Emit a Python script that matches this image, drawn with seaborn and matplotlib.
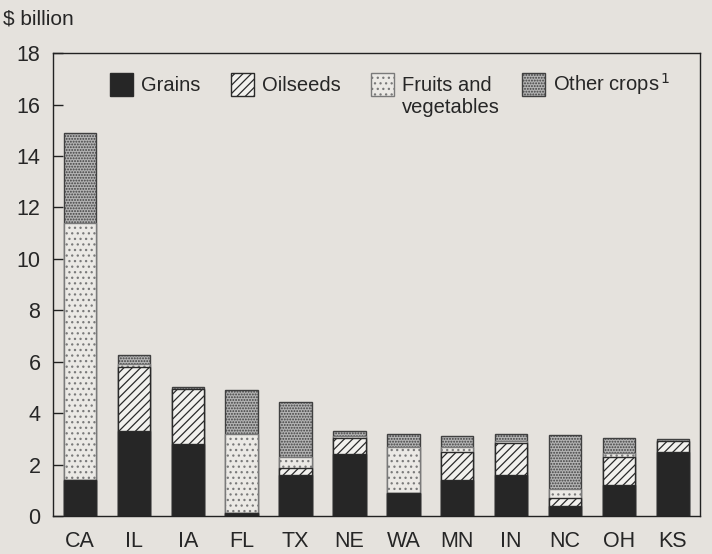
#!/usr/bin/env python3
"""Crop cash receipts by state, stacked by commodity group."""

import numpy as np
import pandas as pd
import matplotlib
matplotlib.use("Agg")
import matplotlib.pyplot as plt
import seaborn as sns

states = ["CA", "IL", "IA", "FL", "TX", "NE", "WA", "MN", "IN", "NC", "OH", "KS"]
grains = [1.4, 3.3, 2.8, 0.1, 1.6, 2.4, 0.9, 1.4, 1.6, 0.4, 1.2, 2.5]
oilseeds = [0.0, 2.5, 2.15, 0.0, 0.25, 0.65, 0.0, 1.1, 1.25, 0.3, 1.1, 0.4]
fruits_veg = [10.0, 0.1, 0.0, 3.1, 0.45, 0.05, 1.8, 0.2, 0.05, 0.35, 0.15, 0.0]
other_crops = [3.5, 0.35, 0.05, 1.7, 2.15, 0.2, 0.5, 0.4, 0.3, 2.1, 0.6, 0.1]

BG = "#e5e2dd"


def setup_style():
    sns.set_theme(style="white")
    plt.rcParams.update({
        "font.family": ["Liberation Sans", "DejaVu Sans"],
        "figure.facecolor": BG,
        "axes.facecolor": BG,
        "savefig.facecolor": BG,
        "hatch.linewidth": 0.9,
        "axes.edgecolor": "#222222",
    })


def main():
    setup_style()
    fig = plt.figure(figsize=(7.12, 5.54), dpi=100)
    ax = fig.add_axes([0.0744, 0.0686, 0.9086, 0.8354])

    df = pd.DataFrame({
        "state": states,
        "grains": grains,
        "oilseeds": oilseeds,
        "fruits": fruits_veg,
        "other": other_crops,
    })
    df["c1"] = df["grains"]
    df["c2"] = df["c1"] + df["oilseeds"]
    df["c3"] = df["c2"] + df["fruits"]
    df["c4"] = df["c3"] + df["other"]

    # draw cumulative layers from top down so each covers the one below
    layers = [
        ("c4", "#b3b3b3", "#404040", "......", "Other crops$^{\\,1}$"),
        ("c3", "#ebe9e5", "#7a7a7a", "...", "Fruits and"),
        ("c2", "#f2f1ee", "#2a2a2a", "////", "Oilseeds"),
        ("c1", "#262626", "#2a2a2a", None, "Grains"),
    ]
    handles = {}
    for col, color, edge, hatch, label in layers:
        n_before = len(ax.patches)
        sns.barplot(data=df, x="state", y=col, color=color, width=0.6,
                    edgecolor=edge, linewidth=1.0, hatch=hatch,
                    saturation=1, ax=ax)
        handles[label] = ax.patches[n_before]
        for p in ax.patches[n_before:]:
            p.set_facecolor(color)

    ax.set_xlim(-0.5, 11.5)
    ax.set_ylim(0, 18)
    ax.set_yticks(np.arange(0, 19, 2))
    ax.set_xlabel("")
    ax.set_ylabel("")
    ax.tick_params(axis="y", direction="in", length=7, width=1,
                   labelsize=15.5, pad=9, left=True, color="#222222")
    ax.tick_params(axis="x", length=0, labelsize=15.5, pad=11)
    for s in ax.spines.values():
        s.set_linewidth(1.0)
        s.set_visible(True)

    order = ["Grains", "Oilseeds", "Fruits and", "Other crops$^{\\,1}$"]
    leg = ax.legend([handles[k] for k in order], order, ncol=4, frameon=False,
                    loc="upper left", bbox_to_anchor=(0.06, 1.0),
                    fontsize=14.5, handlelength=1.15, handleheight=1.35,
                    handletextpad=0.4, columnspacing=1.5)

    # second line of the fruits label, hung under the first
    fig.canvas.draw()
    fruit_txt = leg.get_texts()[2]
    bb = fruit_txt.get_window_extent().transformed(fig.transFigure.inverted())
    fig.text(bb.x0, bb.y0 - 0.006, "vegetables", fontsize=14.5,
             ha="left", va="top")

    fig.text(0.004, 0.948, "\\$ billion", fontsize=15, ha="left", va="bottom")

    fig.savefig("out.png", dpi=100, facecolor=BG)
    plt.close(fig)


if __name__ == "__main__":
    main()
